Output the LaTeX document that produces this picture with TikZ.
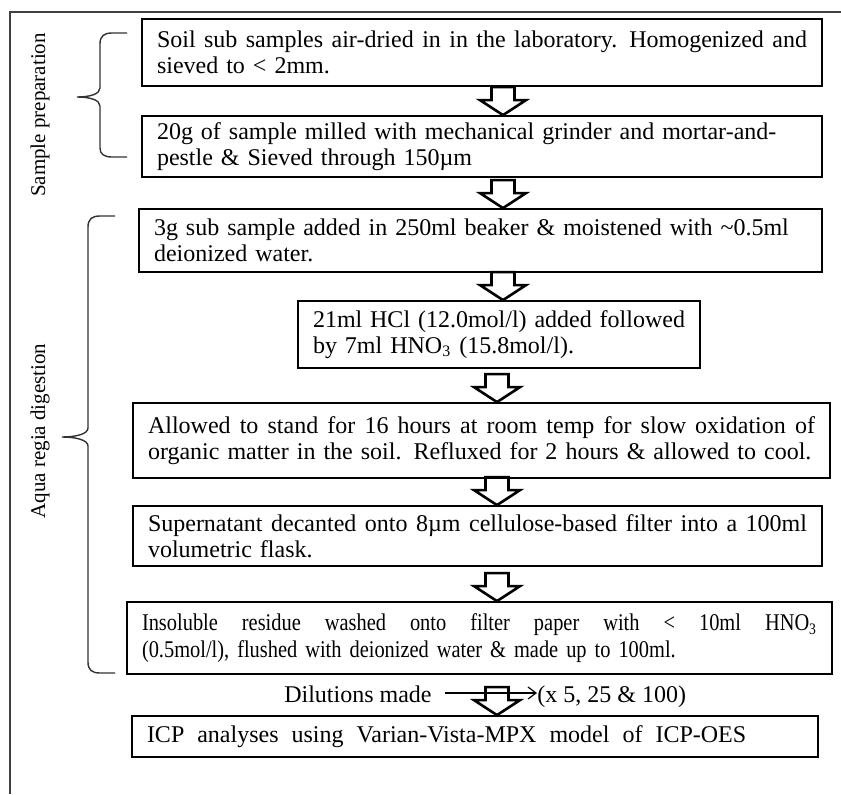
\documentclass[tikz,border=0pt]{standalone}
\usepackage{fontspec}
\setmainfont{Liberation Serif}
\newfontfamily\condfont[FakeStretch=0.85]{Liberation Serif}
\usetikzlibrary{arrows.meta}

% one justified line of a box
\newcommand{\jline}[1]{{\spaceskip=\fontdimen2\font plus 1fil\makebox[\hsize][s]{#1}}}

\begin{document}
\begin{tikzpicture}[x=0.5pt, y=-0.5pt,
		stepbox/.style={draw, line width=0.9pt, inner xsep=7.5pt, inner ysep=2pt, align=left, font=\fontsize{12}{13}\selectfont},
		hollow/.style={line width=1.3pt, line join=miter},
		braceline/.style={line width=0.7pt, black!80},
		thinarr/.style={line width=0.6pt, -{Straight Barb[length=4pt, width=6pt]}},
		sidetext/.style={font=\fontsize{10.5}{12.5}\selectfont},
		dilutext/.style={font=\fontsize{12}{13}\selectfont, inner sep=0}]
		\useasboundingbox (0,0) rectangle (841,794);
		% frame
		\draw[line width=1pt, black!75] (10,794) |- (841,12);

		% steps
		\node[stepbox, text width=325pt, minimum height=33.5pt] (soil) at (482,52.5)
			{\jline{Soil sub samples air-dried in in the laboratory. Homogenized and}\\ sieved to < 2mm.};
		\node[stepbox, text width=325pt, minimum height=30.5pt] (mill) at (482,146.5)
			{20g of sample milled with mechanical grinder and mortar-and-\\ pestle \& Sieved through 150µm};
		\node[stepbox, text width=326.5pt, minimum height=31.5pt] (beaker) at (480.5,240.5)
			{3g sub sample added in 250ml beaker \& moistened with \textasciitilde0.5ml\\ deionized water.};
		\node[stepbox, text width=186pt, minimum height=33.5pt] (acid) at (499,334.5)
			{\jline{21ml HCl (12.0mol/l) added followed}\\ by 7ml HNO\textsubscript{3} (15.8mol/l).};
		\node[stepbox, text width=333.5pt, minimum height=37.5pt] (reflux) at (481.5,440.5)
			{\jline{Allowed to stand for 16 hours at room temp for slow oxidation of}\\ organic matter in the soil. Refluxed for 2 hours \& allowed to cool.};
		\node[stepbox, text width=329.5pt, minimum height=30pt] (decant) at (477.5,536)
			{\jline{Supernatant decanted onto 8µm cellulose-based filter into a 100ml}\\ volumetric flask.};
		\node[stepbox, text width=337.5pt, minimum height=36pt, font=\fontsize{12}{13.5}\condfont] (wash) at (479.5,638)
			{\jline{Insoluble residue washed onto filter paper with < 10ml HNO\textsubscript{3}}\\ (0.5mol/l), flushed with deionized water \& made up to 100ml.};
		\node[stepbox, text width=328pt, minimum height=20.5pt] (icp) at (475,736.5)
			{\spaceskip=6.5pt ICP analyses using Varian-Vista-MPX model of ICP-OES};

		% dilution
		\node[dilutext, anchor=base east] (dil) at (432,702) {Dilutions made};
		\node[dilutext, anchor=base west] (fac) at (537,702) {(x 5, 25 \& 100)};
		\draw[thinarr] ([shift={(13,-9)}]dil.base east) -- ([shift={(0,-9)}]fac.base west);

		% hollow arrows, tip on the next step
		\foreach \t/\ax in {mill/503, beaker/503, acid/503, reflux/497, decant/497, wash/497, icp/497}
			\draw[hollow] (\t.north -| \ax,0) -- ++(23,-15) -- ++(-11.5,0) -- ++(0,-13)
				-- ++(-23,0) -- ++(0,13) -- ++(-11.5,0) -- cycle;

		% braces
		\draw[braceline] (127,33) -- (112,33) .. controls (104,33) and (100,36) .. (100,44)
			-- (100,88) .. controls (100,94) and (90,97) .. (77,97)
			.. controls (90,97) and (100,100) .. (100,106) -- (100,148)
			.. controls (100,154) and (104,157) .. (112,157) -- (127,157);
		\draw[braceline] (115,216) -- (100,216) .. controls (92,216) and (88,219) .. (88,227)
			-- (88,428) .. controls (88,434) and (76,437) .. (62,437)
			.. controls (76,437) and (88,440) .. (88,446) -- (88,662)
			.. controls (88,670) and (92,673) .. (100,673) -- (115,673);

		\node[sidetext, rotate=90] (prep) at (40,115) {Sample preparation};
		\node[sidetext, rotate=90] (aqua) at (40,431) {Aqua regia digestion};
	\end{tikzpicture}
\end{document}
